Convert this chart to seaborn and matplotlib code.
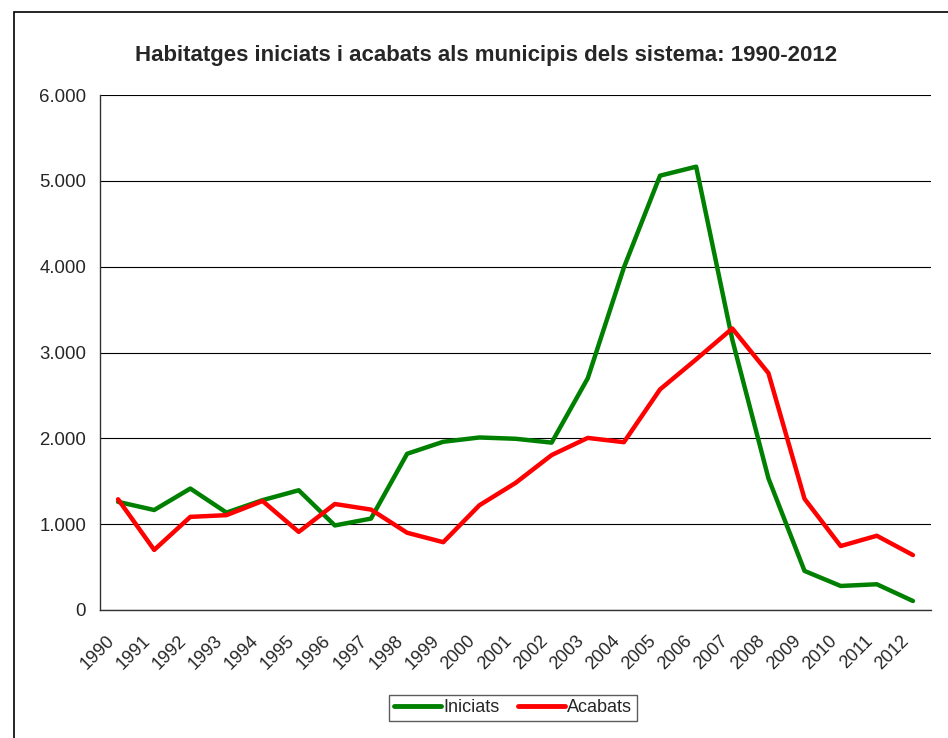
import matplotlib
matplotlib.use("Agg")
import matplotlib.pyplot as plt
import matplotlib.transforms as mtransforms
from matplotlib.patches import Rectangle
from matplotlib.ticker import FuncFormatter, FixedLocator
import seaborn as sns
import pandas as pd
import numpy as np

# data
years = [str(y) for y in range(1990, 2013)]
iniciats = [1260, 1165, 1415, 1135, 1280, 1395, 985, 1065, 1820, 1960, 2010, 1995,
            1950, 2700, 3990, 5060, 5165, 3150, 1535, 455, 280, 300, 105]
acabats = [1290, 700, 1085, 1105, 1270, 910, 1235, 1170, 900, 790, 1220, 1480,
           1805, 2005, 1955, 2570, 2920, 3280, 2760, 1295, 745, 865, 640]
series_names = ["Iniciats", "Acabats"]
series_colors = ["#008000", "#FF0000"]
title = "Habitatges iniciats i acabats als municipis dels sistema: 1990-2012"

df = pd.DataFrame({
    "pos": list(range(len(years))) * 2,
    "valor": iniciats + acabats,
    "serie": [series_names[0]] * len(years) + [series_names[1]] * len(years),
})

sns.set_style("white")
plt.rcParams["font.family"] = ["Liberation Sans", "DejaVu Sans"]

fig = plt.figure(figsize=(9.48, 7.38), dpi=100)
ax = fig.add_axes([100 / 948, 1 - 610 / 738, 831 / 948, 515 / 738])

sns.lineplot(data=df, x="pos", y="valor", hue="serie", palette=series_colors,
             linewidth=3.2, ax=ax, legend=True)

ax.set_xlim(-0.5, len(years) - 0.5)
ax.set_ylim(0, 6000)
ax.set_yticks(np.arange(0, 6001, 1000))
ax.yaxis.set_major_formatter(FuncFormatter(lambda v, p: f"{int(v):,}".replace(",", ".")))
ax.grid(axis="y", color="black", linewidth=0.8)
ax.set_axisbelow(True)
ax.set_xlabel("")
ax.set_ylabel("")

ax.set_xticks(range(len(years)))
ax.set_xticklabels(years, rotation=45, ha="right", rotation_mode="anchor")
ax.xaxis.set_minor_locator(FixedLocator(np.arange(-0.5, len(years), 1)))
ax.tick_params(axis="x", which="major", length=0, pad=16, labelsize=13)
ax.tick_params(axis="x", which="minor", length=5, width=1, color="#333333", direction="out")
ax.tick_params(axis="y", length=5, width=1, color="#333333", direction="out", pad=5, labelsize=13.4)
shift = mtransforms.ScaledTranslation(-9 / 72, 0, fig.dpi_scale_trans)
for lbl in ax.get_xticklabels():
    lbl.set_transform(lbl.get_transform() + shift)

for side in ["top", "right"]:
    ax.spines[side].set_visible(False)
for side in ["left", "bottom"]:
    ax.spines[side].set_color("#333333")
    ax.spines[side].set_linewidth(1)

leg = ax.legend(loc="center", bbox_to_anchor=(513 / 948, 1 - 708 / 738),
                bbox_transform=fig.transFigure, ncol=2, frameon=True, fancybox=False,
                fontsize=13, handlelength=2.6, handletextpad=0.15, columnspacing=1.0,
                borderpad=0.25, edgecolor="#333333")
leg.get_frame().set_linewidth(1)
for h in leg.get_lines():
    h.set_linewidth(3.5)

fig.text(0.513, 1 - 55 / 738, title, ha="center", va="center",
         fontsize=16, fontweight="bold")

# outer chart border (only left and top edges visible in the picture)
fig.patches.append(Rectangle((14 / 948, -0.1), 1.2, 1 - 12 / 738 + 0.1, transform=fig.transFigure,
                             fill=False, edgecolor="black", linewidth=1.2))

fig.savefig("out.png", dpi=100)
